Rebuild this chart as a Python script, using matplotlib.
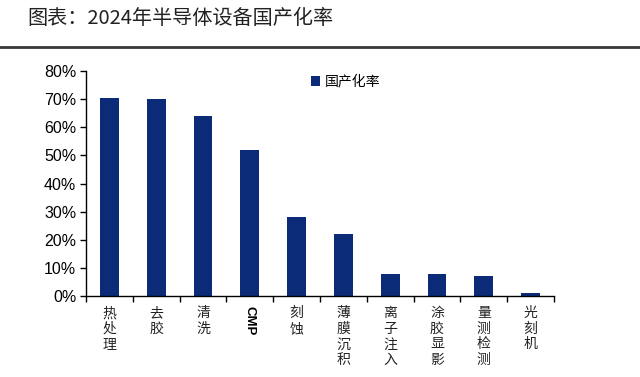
import matplotlib.pyplot as plt
import numpy as np
from matplotlib.lines import Line2D

plt.rcParams['font.family'] = ['Noto Sans CJK SC', 'DejaVu Sans']

# data
categories = ["热处理", "去胶", "清洗", "CMP", "刻蚀", "薄膜沉积", "离子注入", "涂胶显影", "量测检测", "光刻机"]
rate = [70.5, 70, 64, 52, 28, 22, 8, 7.8, 7, 1]
yticks = [0, 10, 20, 30, 40, 50, 60, 70, 80]

bar_color = "#0B2B78"

fig = plt.figure(figsize=(6.4, 3.77), dpi=100)
fig.patch.set_facecolor("white")

# title and rule line
fig.text(27 / 640, 1 - 19 / 377, "图表：2024年半导体设备国产化率", fontsize=14.5,
         va="center", ha="left", color="#222222")
fig.add_artist(Line2D([0, 1], [1 - 47 / 377, 1 - 47 / 377], color="#3a3a3a", lw=2))

ax = fig.add_axes([86 / 640, 1 - 296 / 377, (554 - 86) / 640, (296 - 71) / 377])
x = np.arange(len(categories))
ax.bar(x, rate, width=0.4, color=bar_color, label="国产化率")

ax.set_xlim(-0.5, len(categories) - 0.5)
ax.set_ylim(0, 80)
ax.set_yticks(yticks)
ax.set_yticklabels([f"{v}%" for v in yticks], fontfamily="Liberation Sans", fontsize=11.5)

# labels at bar centers, tick marks at category boundaries
ax.set_xticks(x)
ax.set_xticklabels([])
ax.set_xticks(np.arange(len(categories) + 1) - 0.5, minor=True)
ax.tick_params(axis="x", which="major", length=0)
ax.tick_params(axis="x", which="minor", length=4, direction="out", width=1)
ax.tick_params(axis="y", length=4, width=1, pad=3)

for i, lab in enumerate(categories):
    if lab == "CMP":
        ax.text(i, -3.6, lab, rotation=-90, ha="center", va="top",
                fontfamily="Liberation Sans", fontweight="bold", fontsize=9.5,
                clip_on=False)
    else:
        ax.text(i, -3.6, "\n".join(lab), ha="center", va="top", fontsize=10,
                linespacing=1.15, clip_on=False, color="#222222")

for s in ["top", "right"]:
    ax.spines[s].set_visible(False)
for s in ["left", "bottom"]:
    ax.spines[s].set_linewidth(1)

leg = ax.legend(loc="upper left", bbox_to_anchor=(0.453, 1.04), frameon=False,
                fontsize=10, handlelength=0.7, handleheight=0.7, handletextpad=0.3)

fig.savefig("out.png", dpi=100, facecolor="white")
